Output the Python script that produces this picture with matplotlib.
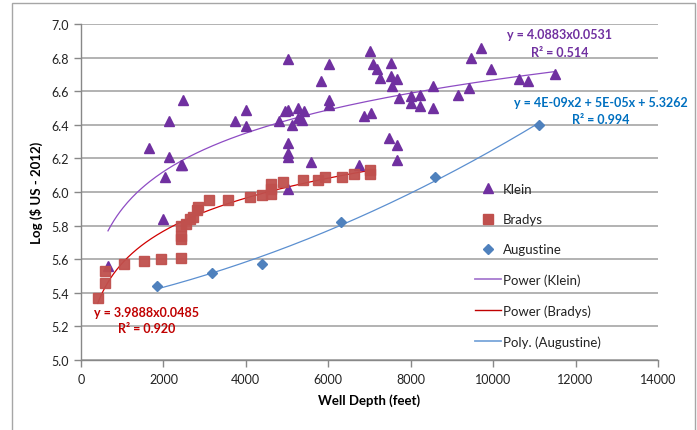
import numpy as np
import matplotlib
matplotlib.use("Agg")
import matplotlib.pyplot as plt
from matplotlib.lines import Line2D
from matplotlib.patches import Rectangle

plt.rcParams['font.family'] = ['Lato', 'DejaVu Sans']

# ---- data ----
klein_x = [655, 1658, 1990, 2030, 2143, 2143, 2420, 2460, 2467, 3737, 4012, 4012,
           4805, 4950, 5015, 5015, 5015, 5015, 5015, 5015, 5120, 5273, 5273, 5355,
           5420, 5580, 5816, 6018, 6018, 6018, 6738, 6875, 7030, 7013, 7093, 7175,
           7255, 7482, 7515, 7522, 7547, 7661, 7661, 7676, 7710, 8008, 8008, 8226,
           8226, 8534, 8534, 9156, 9415, 9457, 9706, 9949, 10636, 10847, 11502]
klein_y = [5.56, 6.26, 5.84, 6.09, 6.42, 6.21, 6.16, 6.16, 6.55, 6.42, 6.49, 6.39,
           6.42, 6.48, 6.49, 6.79, 6.29, 6.23, 6.21, 6.02, 6.40, 6.50, 6.44, 6.43,
           6.48, 6.18, 6.66, 6.76, 6.55, 6.52, 6.16, 6.45, 6.47, 6.84, 6.76, 6.73,
           6.68, 6.32, 6.69, 6.77, 6.63, 6.67, 6.28, 6.19, 6.56, 6.57, 6.53, 6.58,
           6.51, 6.63, 6.50, 6.58, 6.62, 6.80, 6.86, 6.73, 6.67, 6.66, 6.70]

bradys_x = [405, 582, 582, 1051, 1529, 1949, 2434, 2434, 2434, 2434, 2548, 2645,
            2726, 2807, 2847, 3114, 3575, 4101, 4384, 4603, 4603, 4603, 4910, 5379,
            5759, 5921, 6325, 6632, 7013, 7013]
bradys_y = [5.37, 5.46, 5.53, 5.57, 5.59, 5.60, 5.61, 5.72, 5.74, 5.80, 5.81, 5.84,
            5.85, 5.89, 5.91, 5.95, 5.95, 5.97, 5.98, 5.99, 6.02, 6.05, 6.06, 6.07,
            6.07, 6.09, 6.09, 6.11, 6.11, 6.13]

aug_x = [1852, 3186, 4384, 6301, 8600, 11122]
aug_y = [5.44, 5.52, 5.57, 5.82, 6.09, 6.40]

# trendline equations (as shown)
klein_a, klein_b = 4.0883, 0.0531
bradys_a, bradys_b = 3.9888, 0.0485

klein_eq = ["y = 4.0883x0.0531", "R² = 0.514"]
bradys_eq = ["y = 3.9888x0.0485", "R² = 0.920"]
aug_eq = ["y = 4E-09x2 + 5E-05x + 5.3262", "R² = 0.994"]

x_ticks = [0, 2000, 4000, 6000, 8000, 10000, 12000, 14000]
y_ticks = [5.0, 5.2, 5.4, 5.6, 5.8, 6.0, 6.2, 6.4, 6.6, 6.8, 7.0]

# ---- colors ----
c_klein = '#7030A0'
c_bradys = '#C0504D'
c_aug = '#4F81BD'
c_klein_line = '#8E4CC4'
c_bradys_line = '#D00000'
c_aug_line = '#5B8FD0'

fig = plt.figure(figsize=(6.97, 4.31), dpi=100)
ax = fig.add_axes([81/697, 1 - 361/431, 577/697, 336/431])

# gridlines
ax.set_axisbelow(True)
ax.yaxis.grid(True, color='#A6A6A6', lw=1.2)
ax.xaxis.grid(False)

# trendlines
kx = np.linspace(min(klein_x), max(klein_x), 300)
ax.plot(kx, klein_a * kx ** klein_b, color=c_klein_line, lw=0.9, zorder=3)
bx = np.linspace(min(bradys_x), max(bradys_x), 300)
ax.plot(bx, bradys_a * bx ** bradys_b, color=c_bradys_line, lw=0.9, zorder=3)
coef = np.polyfit(aug_x, aug_y, 2)
axx = np.linspace(min(aug_x), max(aug_x), 300)
ax.plot(axx, np.polyval(coef, axx), color=c_aug_line, lw=0.9, zorder=3)

# scatter
ax.plot(klein_x, klein_y, ls='none', marker='^', ms=7.5, color=c_klein, mec=c_klein, zorder=4)
ax.plot(bradys_x, bradys_y, ls='none', marker='s', ms=7, color=c_bradys, mec=c_bradys,
        alpha=0.95, zorder=4)
ax.plot(aug_x, aug_y, ls='none', marker='D', ms=5.5, color=c_aug, mec=c_aug, zorder=4)

ax.set_xlim(0, 14000)
ax.set_ylim(5.0, 7.0)
ax.set_xticks(x_ticks)
ax.set_yticks(y_ticks)
ax.set_yticklabels([f"{v:.1f}" for v in y_ticks])
ax.set_xticklabels([str(v) for v in x_ticks])

for s in ['top', 'right']:
    ax.spines[s].set_visible(False)
for s in ['left', 'bottom']:
    ax.spines[s].set_color('#888888')
    ax.spines[s].set_linewidth(1.0)
ax.tick_params(axis='both', direction='out', length=5, width=1, color='#888888',
               labelsize=9, labelcolor='#222222', pad=4)

ax.set_xlabel('Well Depth (feet)', fontsize=9.5, fontweight='bold', labelpad=6)
ax.set_ylabel('Log ($ US - 2012)', fontsize=9.5, fontweight='bold', labelpad=6)

# equations
ax.text(0.830, 0.969, klein_eq[0], transform=ax.transAxes, ha='center', va='center',
        color=c_klein, fontsize=9, fontweight='bold')
ax.text(0.830, 0.918, klein_eq[1], transform=ax.transAxes, ha='center', va='center',
        color=c_klein, fontsize=9, fontweight='bold')
ax.text(0.901, 0.769, aug_eq[0], transform=ax.transAxes, ha='center', va='center',
        color='#0070C0', fontsize=9, fontweight='bold', clip_on=False)
ax.text(0.901, 0.718, aug_eq[1], transform=ax.transAxes, ha='center', va='center',
        color='#0070C0', fontsize=9, fontweight='bold')
ax.text(0.1135, 0.143, bradys_eq[0], transform=ax.transAxes, ha='center', va='center',
        color='#C00000', fontsize=9, fontweight='bold')
ax.text(0.1135, 0.095, bradys_eq[1], transform=ax.transAxes, ha='center', va='center',
        color='#C00000', fontsize=9, fontweight='bold')

# legend
handles = [
    Line2D([], [], ls='none', marker='^', ms=7, color=c_klein),
    Line2D([], [], ls='none', marker='s', ms=6.5, color=c_bradys),
    Line2D([], [], ls='none', marker='D', ms=5, color=c_aug),
    Line2D([], [], color='#A77BD0', lw=1.3),
    Line2D([], [], color='#C00000', lw=1.0),
    Line2D([], [], color='#7AA6DA', lw=1.3),
]
labels = ['Klein', 'Bradys', 'Augustine', 'Power (Klein)', 'Power (Bradys)',
          'Poly. (Augustine)']
leg = ax.legend(handles, labels, loc='upper left', bbox_to_anchor=(0.683, 0.527),
                frameon=False, fontsize=9.5, handlelength=2.0, handletextpad=0.12,
                labelspacing=1.38, borderaxespad=0, borderpad=0)
for t in leg.get_texts():
    t.set_color('#222222')

# outer frame
fig.patches.append(Rectangle((12/697, -0.01), 683/697, 1 - 4/431 + 0.01,
                             transform=fig.transFigure, fill=False,
                             edgecolor='#A6A6A6', lw=1.0))

fig.savefig('out.png', dpi=100)
